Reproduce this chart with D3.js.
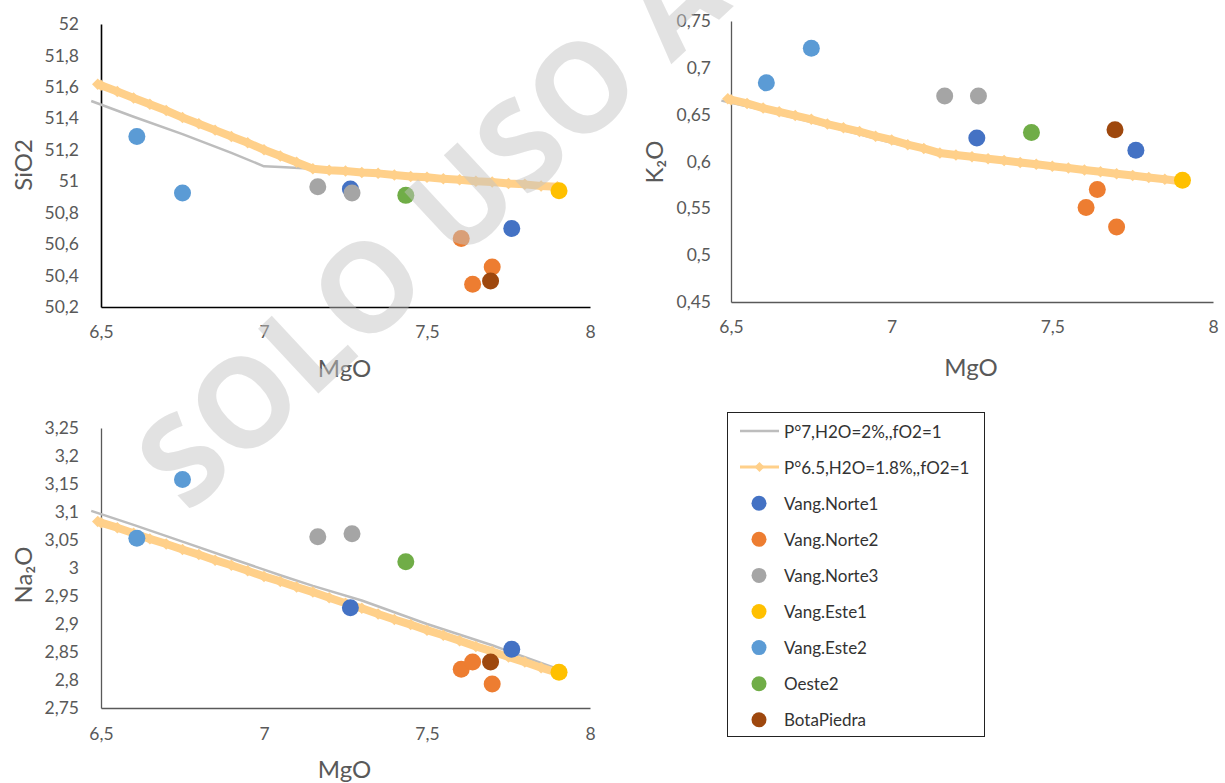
<!DOCTYPE html>
<html><head><meta charset="utf-8">
<script src="https://cdn.jsdelivr.net/npm/d3@7"></script>
<style>body{margin:0;background:#fff}svg{display:block}text{font-family:Lato,'Open Sans',sans-serif}</style>
</head><body><svg id="c" width="1225" height="783"></svg>
<script>
// ---------- data ----------
const mgoTicks = [6.5, 7, 7.5, 8];
const sio2Ticks = [50.2, 50.4, 50.6, 50.8, 51, 51.2, 51.4, 51.6, 51.8, 52];
const k2oTicks = [0.45, 0.5, 0.55, 0.6, 0.65, 0.7, 0.75];
const na2oTicks = [2.75, 2.8, 2.85, 2.9, 2.95, 3, 3.05, 3.1, 3.15, 3.2, 3.25];

const lineP7Name = "P°7,H2O=2%,,fO2=1";
const lineP7MgO  = [6.47, 6.60, 6.75, 6.90, 7.00, 7.05, 7.15, 7.30, 7.50, 7.70, 7.89];
const lineP7SiO2 = [51.51, 51.41, 51.30, 51.18, 51.095, 51.09, 51.08, 51.055, 51.02, 50.99, 50.96];
const lineP7K2O  = [0.665, 0.655, 0.642, 0.629, 0.620, 0.616, 0.608, 0.602, 0.594, 0.586, 0.579];
const lineP7Na2O = [3.102, 3.077, 3.047, 3.017, 2.997, 2.987, 2.968, 2.942, 2.900, 2.862, 2.822];

const lineP65Name = "P°6.5,H2O=1.8%,,fO2=1";
const lineP65MgO  = [6.49, 6.50, 6.55, 6.60, 6.65, 6.70, 6.75, 6.80, 6.85, 6.90, 6.95, 7.00, 7.05, 7.10, 7.15,
                     7.20, 7.25, 7.30, 7.35, 7.40, 7.45, 7.50, 7.55, 7.60, 7.65, 7.70, 7.75, 7.80, 7.85, 7.90];
const lineP65SiO2 = [51.617, 51.61, 51.57, 51.53, 51.49, 51.45, 51.405, 51.365, 51.325, 51.285, 51.245, 51.20, 51.16, 51.12, 51.08,
                     51.07, 51.065, 51.055, 51.05, 51.04, 51.03, 51.025, 51.015, 51.01, 51.00, 50.995, 50.985, 50.98, 50.97, 50.965];
const lineP65K2O  = [0.667, 0.666, 0.662, 0.657, 0.653, 0.649, 0.645, 0.640, 0.636, 0.632, 0.627, 0.623, 0.618, 0.614, 0.609,
                     0.607, 0.605, 0.603, 0.601, 0.599, 0.597, 0.595, 0.593, 0.591, 0.589, 0.587, 0.585, 0.583, 0.581, 0.579];
const lineP65Na2O = [3.083, 3.081, 3.072, 3.062, 3.052, 3.043, 3.033, 3.024, 3.014, 3.005, 2.995, 2.985, 2.976, 2.966, 2.957,
                     2.947, 2.937, 2.928, 2.918, 2.908, 2.899, 2.889, 2.880, 2.870, 2.860, 2.851, 2.841, 2.832, 2.822, 2.813];

const sampleNames  = ["Vang.Norte1", "Vang.Norte2", "Vang.Norte3", "Vang.Este1", "Vang.Este2", "Oeste2", "BotaPiedra"];
const sampleColors = ["#4472C4", "#ED7D31", "#A5A5A5", "#FFC000", "#5B9BD5", "#70AD47", "#9E480E"];
const sampleMgO  = [[7.265, 7.76], [7.605, 7.64, 7.70], [7.165, 7.27], [7.905], [6.61, 6.75], [7.435], [7.695]];
const sampleSiO2 = [[50.95, 50.70], [50.635, 50.345, 50.455], [50.965, 50.925], [50.94], [51.285, 50.925], [50.91], [50.365]];
const sampleK2O  = [[0.625, 0.612], [0.551, 0.570, 0.530], [0.670, 0.670], [0.580], [0.684, 0.721], [0.631], [0.634]];
const sampleNa2O = [[2.929, 2.855], [2.819, 2.832, 2.793], [3.056, 3.061], [2.814], [3.053, 3.158], [3.011], [2.832]];

const watermarkText = "SOLO USO ACADÉMICO";

// ---------- drawing ----------
const svg = d3.select("#c");
const fmt = d => String(d).replace(".", ",");
const grayCol = "#BDBDBD", orangeCol = "#FFD08A", textCol = "#595959";

function panel(cfg) {
  const g = svg.append("g");
  const x = d3.scaleLinear().domain([mgoTicks[0], mgoTicks[mgoTicks.length - 1]]).range([cfg.left, cfg.right]);
  const y = d3.scaleLinear().domain([cfg.ticks[0], cfg.ticks[cfg.ticks.length - 1]]).range([cfg.bottom, cfg.top]);

  const ax = g.append("g").attr("transform", `translate(0,${cfg.bottom})`)
    .call(d3.axisBottom(x).tickValues(mgoTicks).tickFormat(fmt).tickSize(0).tickPadding(cfg.xPad));
  const ay = g.append("g").attr("transform", `translate(${cfg.left},0)`)
    .call(d3.axisLeft(y).tickValues(cfg.ticks).tickFormat(fmt).tickSize(0).tickPadding(cfg.yPad));
  [ax, ay].forEach(a => {
    a.select(".domain").attr("stroke", cfg.axisCol).attr("stroke-width", cfg.axisW);
    a.selectAll("text").attr("fill", textCol).style("font-size", "17.5px").style("font-family", "Lato,'Open Sans',sans-serif");
  });

  g.append("text").attr("x", (cfg.left + cfg.right) / 2 - 1).attr("y", cfg.xTitleY)
    .attr("text-anchor", "middle").attr("fill", textCol).style("font-size", "24px").text("MgO");
  g.append("text").attr("transform", `translate(${cfg.yTitleX},${cfg.yTitleY}) rotate(-90)`)
    .attr("text-anchor", "middle").attr("dominant-baseline", "central")
    .attr("fill", textCol).style("font-size", "24px").text(cfg.title);

  const line = d3.line().x(d => x(d[0])).y(d => y(d[1]));
  const p7 = lineP7MgO.map((m, i) => [m, cfg.p7[i]]);
  const p65 = lineP65MgO.map((m, i) => [m, cfg.p65[i]]);
  g.append("path").attr("d", line(p7)).attr("fill", "none").attr("stroke", grayCol)
    .attr("stroke-width", 2.5).attr("stroke-linejoin", "round");
  g.append("path").attr("d", line(p65)).attr("fill", "none").attr("stroke", orangeCol)
    .attr("stroke-width", 8).attr("stroke-linejoin", "round");
  const dia = d3.symbol(d3.symbolSquare, 66);
  g.selectAll(".dm").data(p65).join("path").attr("d", dia)
    .attr("transform", d => `translate(${x(d[0])},${y(d[1])}) rotate(45)`).attr("fill", orangeCol);

  sampleNames.forEach((n, si) => {
    const pts = sampleMgO[si].map((m, i) => [m, cfg.samples[si][i]]);
    g.selectAll(".s" + si).data(pts).join("circle")
      .attr("cx", d => x(d[0])).attr("cy", d => y(d[1])).attr("r", 8.5).attr("fill", sampleColors[si]);
  });
}

panel({left: 101, right: 590, top: 24, bottom: 307, ticks: sio2Ticks, axisCol: "#000", axisW: 1.6,
  xPad: 19, yPad: 22, xTitleY: 377, yTitleX: 22, yTitleY: 165, title: "SiO2",
  p7: lineP7SiO2, p65: lineP65SiO2, samples: sampleSiO2});
panel({left: 731, right: 1213, top: 21, bottom: 302, ticks: k2oTicks, axisCol: "#595959", axisW: 1.3,
  xPad: 19, yPad: 20, xTitleY: 376, yTitleX: 653, yTitleY: 162, title: "K₂O",
  p7: lineP7K2O, p65: lineP65K2O, samples: sampleK2O});
panel({left: 101, right: 590, top: 428, bottom: 708, ticks: na2oTicks, axisCol: "#595959", axisW: 1.3,
  xPad: 20, yPad: 22, xTitleY: 778, yTitleX: 22, yTitleY: 575, title: "Na₂O",
  p7: lineP7Na2O, p65: lineP65Na2O, samples: sampleNa2O});

// ---------- legend ----------
const lg = svg.append("g");
lg.append("rect").attr("x", 727.5).attr("y", 412.5).attr("width", 257).attr("height", 324)
  .attr("fill", "#fff").attr("stroke", "#222").attr("stroke-width", 1);
const legendItems = [{name: lineP7Name, type: "l7"}, {name: lineP65Name, type: "l65"}]
  .concat(sampleNames.map((n, i) => ({name: n, type: "pt", color: sampleColors[i]})));
legendItems.forEach((it, i) => {
  const yy = 431 + i * 36.1;
  if (it.type === "l7") {
    lg.append("line").attr("x1", 740).attr("x2", 779).attr("y1", yy).attr("y2", yy).attr("stroke", grayCol).attr("stroke-width", 2.5);
  } else if (it.type === "l65") {
    lg.append("line").attr("x1", 740).attr("x2", 779).attr("y1", yy).attr("y2", yy).attr("stroke", orangeCol).attr("stroke-width", 3);
    lg.append("path").attr("d", d3.symbol(d3.symbolSquare, 50)).attr("transform", `translate(759.5,${yy}) rotate(45)`).attr("fill", orangeCol);
  } else {
    lg.append("circle").attr("cx", 759).attr("cy", yy).attr("r", 7.5).attr("fill", it.color);
  }
  lg.append("text").attr("x", 784).attr("y", yy).attr("dominant-baseline", "central")
    .attr("fill", "#333").style("font-size", "17px").text(it.name);
});

// ---------- watermark ----------
svg.append("text").attr("transform", "translate(188,515) rotate(-43)")
  .attr("fill", "#c4c4c4").attr("opacity", 0.48)
  .style("font-family", "'Open Sans',sans-serif").style("font-weight", 700).style("font-size", "124px")
  .text(watermarkText);
</script></body></html>
